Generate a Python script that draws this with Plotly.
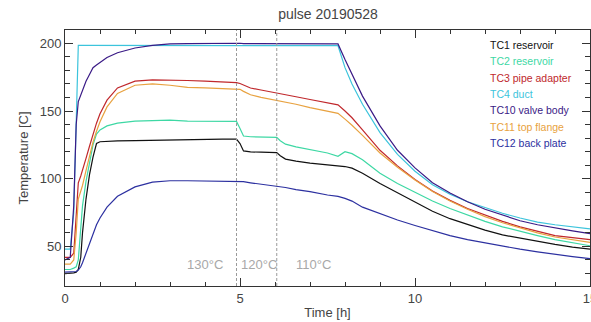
import plotly.graph_objects as go

# ---- data ----
T = [0.0, 0.15, 0.25, 0.32, 0.38, 0.45, 0.5, 0.6, 0.7, 0.8, 0.9, 1.0, 1.2, 1.5, 2.0, 2.5,
     3.0, 3.5, 4.0, 4.5, 4.9, 5.0, 5.1, 5.3, 5.6, 6.05, 6.15, 6.3, 6.6, 7.0, 7.5, 7.8,
     8.0, 8.2, 8.5, 9.0, 9.5, 10.0, 10.5, 11.0, 11.5, 12.0, 12.5, 13.0, 13.5, 14.0, 14.5, 15.0]

TC1 = [30, 30, 30.5, 31, 33, 42, 60, 85, 103, 116, 126, 127.3, 127.7, 128, 128.2, 128.5,
       128.8, 129, 129.2, 129.3, 129.3, 126, 120.5, 119.8, 119.6, 119.3, 117, 114.5, 113, 111.5, 110.2, 109.8,
       109, 107.8, 104, 96.5, 89.5, 82.5, 76, 70.5, 66, 62, 58.5, 56, 53.5, 51.5, 49.5, 48]
TC2 = [33, 33, 34, 35, 40, 60, 80, 98, 113, 125, 133, 136, 139, 141, 142.5, 143,
       143.3, 142.5, 142.3, 142.3, 142.3, 137, 131.5, 131, 131, 130.5, 128, 125.5, 123.5, 121.5, 119, 116.5,
       120, 118.5, 114, 104, 96.5, 90, 83.5, 78, 73, 68.5, 64.5, 61, 58, 55, 52.5, 50.5]
TC3 = [42, 42, 45, 70, 97, 102, 106, 115, 124, 133, 141, 148, 158, 167, 172, 173,
       173, 172.5, 172, 171.5, 171, 170.3, 169, 167, 165.5, 163.5, 163, 162, 160.5, 158.5, 156, 154.5,
       150, 145, 136, 121, 109.5, 99.5, 91, 84, 78, 73, 68.5, 64.5, 61, 58, 56.5, 55]
TC4 = [48, 48, 75, 150, 198.5, 198.5, 198.5, 198.5, 198.5, 198.5, 198.5, 198.5, 198.5, 198.5, 198.5, 198.5,
       198.5, 198.5, 198.5, 198.5, 198.5, 198.5, 198.5, 198.5, 198.4, 198.4, 198.4, 198.4, 198.3, 198.3, 198.3, 198.2,
       182, 170, 155, 134, 118, 105.5, 95.5, 88.5, 83, 78.5, 74.5, 71, 68, 66, 64.5, 63]
TC10 = [40, 42, 80, 140, 157, 162, 166, 172, 177, 182, 184, 186, 189.5, 193, 196.5, 198.5,
        199.5, 199.8, 200, 200, 200, 200, 199.8, 199.8, 199.8, 199.7, 199.7, 199.7, 199.6, 199.6, 199.5, 199.5,
        188, 177, 161, 139, 121, 108, 97, 89.5, 83, 77.5, 73, 69, 66, 63.5, 61.5, 59.5]
TC11 = [37, 37, 40, 60, 85, 90, 95, 106, 117, 127, 135, 142, 153, 163, 169, 170,
        169, 167.5, 167, 166.5, 166.5, 166, 164.5, 162, 160, 158, 157.5, 156.5, 155, 152.5, 150, 148.3,
        144, 139.5, 132, 119, 108.5, 99, 90.5, 83.5, 77.5, 72, 67.5, 63.5, 60, 57, 55, 53]
TC12 = [31, 31, 31, 31.5, 32.5, 35, 38, 45, 53, 60, 66, 71, 79, 87, 94, 97.5,
        98.5, 98.5, 98.3, 98.2, 98.2, 98, 97.8, 97, 96, 94.5, 94.2, 93.5, 92, 90.5, 88, 87,
        85.5, 83.5, 79, 74, 69.5, 65.5, 61.5, 58, 55, 52.5, 50, 48, 46, 44, 42.5, 41]

NAMES = ["TC1 reservoir", "TC2 reservoir", "TC3 pipe adapter", "TC4 duct",
         "TC10 valve body", "TC11 top flange", "TC12 back plate"]
SERIES = [TC1, TC2, TC3, TC4, TC10, TC11, TC12]
COLORS = ["#111111", "#3ed8a4", "#c0282c", "#3cc4dc", "#3a1a86", "#e8a240", "#2c30a0"]

SETPOINT_CHANGES = [4.9, 6.05]
SETPOINT_LABELS = ["130°C", "120°C", "110°C"]
SETPOINT_LABEL_X = [4.0, 5.54, 7.09]
SETPOINT_LABEL_Y = 36.5

FONT = "Liberation Sans, Arial, sans-serif"

fig = go.Figure()
for name, vals, col in zip(NAMES, SERIES, COLORS):
    fig.add_trace(go.Scatter(x=T, y=vals, mode="lines", name=name,
                             line=dict(color=col, width=1.2), showlegend=False))

for xv in SETPOINT_CHANGES:
    fig.add_shape(type="line", xref="x", yref="paper", x0=xv, x1=xv, y0=0, y1=1,
                  line=dict(color="#9a9a9a", width=1, dash="3px,2px"))

for lab, xv in zip(SETPOINT_LABELS, SETPOINT_LABEL_X):
    fig.add_annotation(x=xv, y=SETPOINT_LABEL_Y, xref="x", yref="y", text=lab,
                       showarrow=False, font=dict(family=FONT, size=13, color="#a8a8a8"))

# legend as coloured text
for i, (name, col) in enumerate(zip(NAMES, COLORS)):
    fig.add_annotation(x=0.806, y=0.941 - i * 0.0637, xref="paper", yref="paper",
                       text=name, showarrow=False, xanchor="left", yanchor="middle",
                       font=dict(family=FONT, size=10.5, color=col))

axis_common = dict(showline=True, linecolor="#333333", linewidth=1, mirror="ticks",
                   ticks="inside", tickcolor="#333333", ticklen=8, showgrid=False,
                   zeroline=False, automargin=False,
                   tickfont=dict(family=FONT, size=13, color="#444444"))

fig.update_xaxes(range=[0, 15], tickvals=[0, 5, 10, 15], ticktext=["0", "5", "10", "15"],
                 ticklabeloverflow="allow",
                 minor=dict(dtick=1, ticks="inside", ticklen=4, tickcolor="#333333"),
                 title=dict(text="Time [h]", font=dict(family=FONT, size=13, color="#444444"), standoff=3),
                 **axis_common)
fig.update_yaxes(range=[20.8, 209.8], tickvals=[50, 100, 150, 200],
                 minor=dict(dtick=10, tick0=0, ticks="inside", ticklen=5, tickcolor="#333333"),
                 title=dict(text="Temperature [C]", font=dict(family=FONT, size=13, color="#444444"), standoff=8),
                 **axis_common)

fig.update_layout(
    width=591, height=322,
    margin=dict(l=65, r=1, t=30, b=36),
    paper_bgcolor="white", plot_bgcolor="white",
    title=dict(text="pulse 20190528", x=0.555, xanchor="center", y=0.955, yanchor="middle",
               font=dict(family=FONT, size=14, color="#444444")),
)

fig.write_html("out.html", config={"displayModeBar": False},
               post_script="document.body.style.margin='0';document.body.style.overflow='hidden';")
